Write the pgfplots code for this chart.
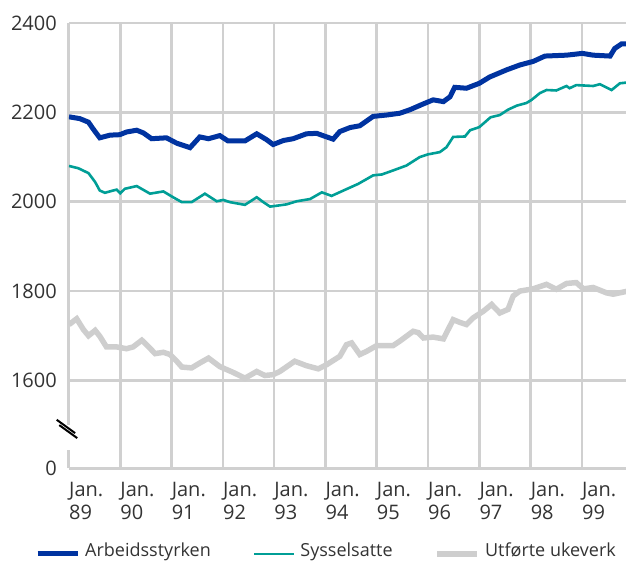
\documentclass[border=0pt]{standalone}
\usepackage{pgfplots}
\pgfplotsset{compat=1.18}
\usepackage{fontspec}
\setmainfont{Open Sans}
\definecolor{navy}{RGB}{0,51,160}
\definecolor{tealc}{RGB}{0,158,150}
\definecolor{lgrey}{RGB}{206,206,206}
\definecolor{gridgrey}{RGB}{208,208,208}
\definecolor{txt}{RGB}{51,51,51}

\pgfplotstableread{
x y
89.00 2190
89.21 2186
89.38 2178
89.47 2163
89.60 2143
89.80 2149
89.99 2150
90.12 2156
90.32 2160
90.45 2154
90.61 2141
90.90 2143
91.10 2131
91.36 2121
91.55 2145
91.72 2141
91.94 2148
92.10 2136
92.43 2136
92.66 2152
92.85 2139
92.98 2128
93.18 2137
93.37 2141
93.63 2152
93.83 2153
94.00 2146
94.15 2140
94.28 2157
94.48 2166
94.67 2170
94.93 2191
95.19 2194
95.45 2198
95.65 2206
95.91 2219
96.10 2228
96.30 2224
96.43 2235
96.52 2256
96.75 2254
97.00 2265
97.20 2279
97.53 2295
97.79 2306
98.05 2314
98.28 2326
98.70 2328
99.01 2332
99.22 2328
99.55 2326
99.64 2343
99.77 2353
99.90 2353
}\arbeid

\pgfplotstableread{
x y
89.00 2080
89.18 2075
89.38 2064
89.51 2044
89.60 2025
89.70 2020
89.86 2025
89.93 2027
90.00 2019
90.09 2029
90.32 2035
90.58 2018
90.84 2023
91.03 2010
91.20 1999
91.39 1999
91.65 2018
91.88 2001
92.01 2004
92.14 1999
92.43 1993
92.66 2010
92.79 1999
92.92 1989
93.24 1994
93.44 2001
93.70 2006
93.93 2021
94.12 2013
94.35 2025
94.64 2040
94.93 2059
95.10 2061
95.32 2070
95.58 2081
95.84 2100
96.00 2106
96.23 2111
96.36 2122
96.49 2145
96.72 2146
96.82 2160
97.00 2167
97.22 2189
97.40 2194
97.56 2206
97.73 2215
97.92 2221
98.02 2228
98.18 2243
98.31 2250
98.50 2249
98.70 2259
98.76 2254
98.89 2261
99.22 2259
99.35 2263
99.58 2250
99.74 2265
99.90 2267
}\syssel

\pgfplotstableread{
x y
89.00 1725
89.15 1738
89.28 1714
89.38 1700
89.51 1712
89.60 1699
89.73 1675
89.93 1675
90.12 1671
90.25 1675
90.42 1690
90.51 1680
90.68 1660
90.84 1663
90.97 1658
91.10 1643
91.20 1630
91.39 1628
91.55 1639
91.72 1650
91.94 1631
92.20 1618
92.43 1605
92.66 1620
92.82 1611
92.98 1613
93.11 1620
93.40 1643
93.63 1633
93.86 1626
94.02 1635
94.28 1654
94.41 1680
94.51 1684
94.67 1658
94.80 1665
95.00 1678
95.32 1678
95.45 1688
95.71 1710
95.81 1707
95.91 1695
96.10 1697
96.30 1693
96.49 1736
96.62 1730
96.75 1725
96.88 1740
97.08 1755
97.24 1770
97.40 1751
97.56 1759
97.66 1789
97.79 1800
98.05 1805
98.31 1815
98.50 1804
98.70 1817
98.89 1819
99.03 1805
99.22 1808
99.48 1796
99.61 1793
99.90 1800
}\ukeverk

\begin{document}
\begin{tikzpicture}
\begin{axis}[
    scale only axis,
    width=557pt, height=445pt,
    xmin=89, xmax=99.86,
    ymin=1404, ymax=2400,
    axis x line=bottom, axis y line=left,
    axis line style={-, draw=gridgrey, line width=3pt},
    xtick={89,...,99},
    xticklabels={{Jan.\\89},{Jan.\\90},{Jan.\\91},{Jan.\\92},{Jan.\\93},{Jan.\\94},{Jan.\\95},{Jan.\\96},{Jan.\\97},{Jan.\\98},{Jan.\\99}},
    ytick={1404,1600,1800,2000,2200,2400},
    yticklabels={0,1600,1800,2000,2200,2400},
    major tick length=0pt,
    grid=major,
    grid style={draw=gridgrey, line width=2.6pt},
    tick label style={font=\fontsize{20}{23}\selectfont, text=txt},
    xticklabel style={align=left, anchor=north west, inner sep=0pt, yshift=-14pt},
    yticklabel style={anchor=east, inner sep=0pt, xshift=-12pt},
    /pgf/number format/assume math mode=true,
    legend columns=3,
    legend image code/.code={\draw[#1] (0pt,-3pt) -- (40pt,-3pt);},
    legend style={at={(rel axis cs:0,0)}, anchor=north west, xshift=-34pt, yshift=-75pt,
        draw=none, fill=none, inner sep=0pt,
        font=\fontsize{18}{22}\selectfont, text=txt,
        nodes={inner sep=0pt},
        /tikz/every odd column/.append style={column sep=5pt},
        /tikz/every even column/.append style={column sep=42pt}},
]
\addplot[navy, line width=5pt] table[x=x, y=y] {\arbeid};
\addlegendentry{Arbeidsstyrken}
\addplot[tealc, line width=2.6pt] table[x=x, y=y] {\syssel};
\addlegendentry{Sysselsatte}
\addplot[lgrey, line width=5.5pt] table[x=x, y=y] {\ukeverk};
\addlegendentry{Utførte ukeverk}
\coordinate (ga) at (axis cs:88.88,1500);
\coordinate (gb) at (axis cs:89.12,1444);
\coordinate (b1) at (axis cs:88.76,1512);
\coordinate (b2) at (axis cs:89.12,1482);
\coordinate (b3) at (axis cs:88.81,1500);
\coordinate (b4) at (axis cs:89.16,1471);
\end{axis}
\fill[white] (ga) rectangle (gb);
\draw[black, line width=2pt] (b1) -- (b2);
\draw[black, line width=2pt] (b3) -- (b4);
\pgfresetboundingbox
\path[use as bounding box] ([xshift=-69pt,yshift=-95pt]current axis.south west) rectangle ([yshift=23pt]current axis.north east);
\end{tikzpicture}
\end{document}
